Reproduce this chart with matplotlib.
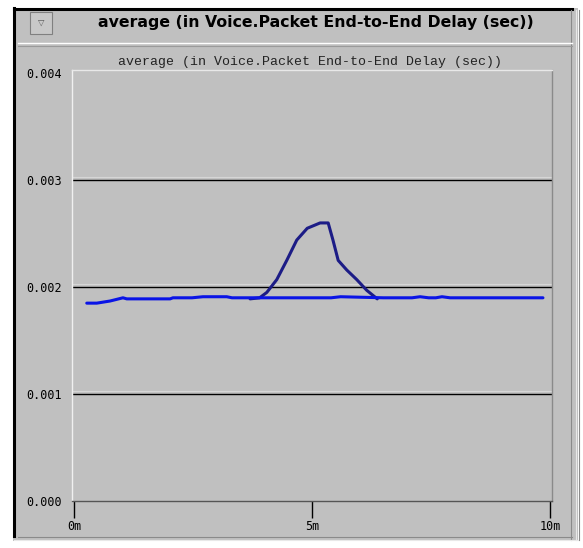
import matplotlib
matplotlib.use('Agg')
import matplotlib.pyplot as plt
from matplotlib.patches import Rectangle
from matplotlib.lines import Line2D

# ── Data (minutes, seconds) ───────────────────────────────────────────────────
blue_t = [0.27, 0.48, 0.76, 1.03, 1.11, 2.02, 2.08, 2.37, 2.48, 2.71, 3.21, 3.32,
          4.0, 4.8, 5.4, 5.6, 6.5, 7.1, 7.27, 7.45, 7.6, 7.73, 7.9, 8.6, 9.3, 9.85]
blue_v = [0.00185, 0.00185, 0.00187, 0.00190, 0.00189, 0.00189, 0.00190, 0.00190,
          0.00190, 0.00191, 0.00191, 0.00190, 0.00190, 0.00190, 0.00190, 0.00191,
          0.00190, 0.00190, 0.00191, 0.00190, 0.00190, 0.00191, 0.00190, 0.00190,
          0.00190, 0.00190]

navy_t = [3.7, 3.9, 4.05, 4.26, 4.47, 4.68, 4.9, 5.17, 5.34, 5.44, 5.55, 5.73,
          5.94, 6.15, 6.37]
navy_v = [0.00189, 0.00190, 0.00195, 0.00207, 0.00225, 0.00244, 0.00255, 0.00260,
          0.00260, 0.00244, 0.00225, 0.00216, 0.00207, 0.00197, 0.00189]

y_ticks = [0.000, 0.001, 0.002, 0.003, 0.004]
y_labels = ['0.000', '0.001', '0.002', '0.003', '0.004']
x_ticks = [0, 5, 10]
x_labels = ['0m', '5m', '10m']
title = 'average (in Voice.Packet End-to-End Delay (sec))'

BG = '#c0c0c0'
W, H = 583, 548


def fx(x):
    return x / W


def fy(y):
    return 1 - y / H


def hline(fig, y, x0, x1, color, lw=1.0):
    fig.add_artist(Line2D([fx(x0), fx(x1)], [fy(y), fy(y)], color=color, lw=lw,
                          transform=fig.transFigure))


def vline(fig, x, y0, y1, color, lw=1.0):
    fig.add_artist(Line2D([fx(x), fx(x)], [fy(y0), fy(y1)], color=color, lw=lw,
                          transform=fig.transFigure))


fig = plt.figure(figsize=(W / 100, H / 100), dpi=100, facecolor='white')

# ── Window frame ──────────────────────────────────────────────────────────────
fig.add_artist(Rectangle((fx(13), fy(541)), (578 - 13) / W, (541 - 8) / H,
                         facecolor=BG, edgecolor='none', transform=fig.transFigure,
                         zorder=-5))
hline(fig, 8.5, 14, 572, 'black', lw=2.2)
vline(fig, 13.5, 8, 536, 'black', lw=2.2)
vline(fig, 571, 10, 540, '#8a8a8a', lw=0.8)
vline(fig, 576, 10, 540, '#e8e8e8', lw=0.8)
vline(fig, 579, 10, 540, '#8a8a8a', lw=0.8)
hline(fig, 43, 18, 572, 'white', lw=1.0)
hline(fig, 46, 18, 572, '#9a9a9a', lw=0.8)
hline(fig, 537, 18, 572, '#8a8a8a', lw=0.8)
hline(fig, 540, 14, 578, '#e8e8e8', lw=0.8)

# menu button
fig.add_artist(Rectangle((fx(30), fy(34)), 22 / W, 22 / H, facecolor='#c8c8c8',
                         edgecolor='#808080', lw=0.8, transform=fig.transFigure))
fig.text(fx(41), fy(22), '\u25bd', fontsize=6, ha='center', va='center', color='#555555')

fig.text(fx(316), fy(23), title, fontsize=11.3, fontweight='bold',
         ha='center', va='center', family='DejaVu Sans')

# ── Plot area ─────────────────────────────────────────────────────────────────
ax = fig.add_axes([fx(72), fy(501), (552 - 72) / W, (501 - 70) / H])
ax.set_facecolor(BG)
ax.set_xlim(-0.04, 10.04)
ax.set_ylim(0, 0.00403)

for yv in y_ticks[1:4]:
    ax.axhline(yv + 0.00003, color='#d6d6d6', lw=0.8, zorder=1)
    ax.axhline(yv, color='black', lw=1.0, zorder=1)

ax.plot(navy_t, navy_v, color='#1c1c86', lw=2.2, zorder=2, solid_capstyle='round')
ax.plot(blue_t, blue_v, color='#0a14e6', lw=2.2, zorder=3, solid_capstyle='round')

ax.set_yticks(y_ticks)
ax.set_yticklabels(y_labels, family='DejaVu Sans Mono', fontsize=8.5)
ax.set_xticks(x_ticks)
ax.set_xticklabels(x_labels, family='DejaVu Sans Mono', fontsize=8.5)
ax.tick_params(axis='y', length=0, pad=7)
ax.tick_params(axis='x', length=12, width=1.0, direction='out', pad=2, color='black')

ax.spines['bottom'].set_color('#555555')
ax.spines['left'].set_color('#f0f0f0')
ax.spines['top'].set_color('#e8e8e8')
ax.spines['right'].set_color('#8a8a8a')
for s in ax.spines.values():
    s.set_linewidth(1.0)

fig.text(fx(310), fy(62), title, fontsize=9.5, family='Liberation Mono',
         ha='center', va='center', color='#222222')

plt.savefig('out.png', dpi=100, facecolor='white')
